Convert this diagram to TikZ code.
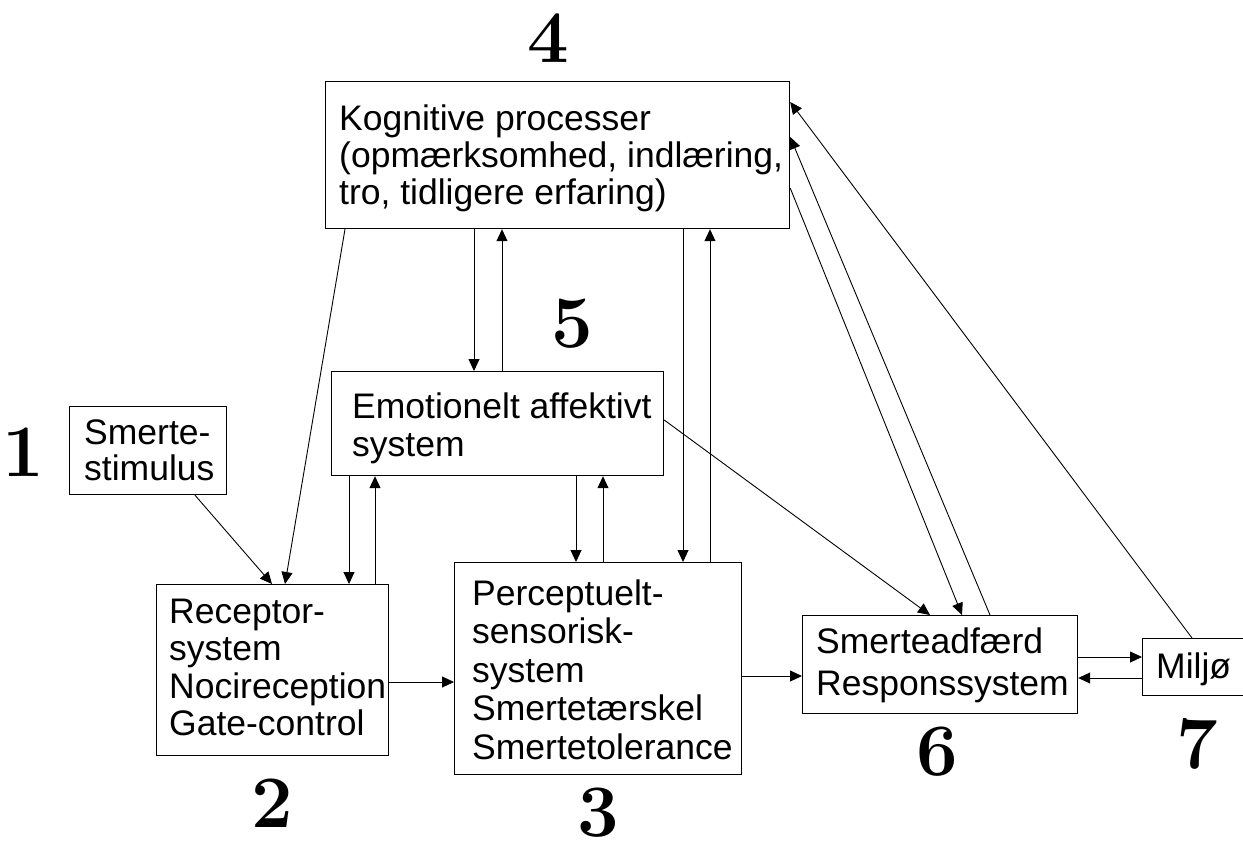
\documentclass[tikz,border=0pt]{standalone}
\usepackage{fontspec}
\setmainfont{Liberation Sans}
\newfontfamily\digitfont{Latin Modern Roman}
\usetikzlibrary{arrows.meta,calc}
\newcommand{\boxlines}[2]{\fontsize{35.5}{#1}\selectfont\begin{tabular}[t]{@{}l@{}}#2\end{tabular}}
\tikzset{
  boxnode/.style={draw=black, line width=1.2pt, inner sep=0pt, anchor=north west},
  txt/.style={anchor=base west, inner sep=0pt},
  arr/.style={line width=0.9pt, -{Triangle[length=12pt,width=11pt]}},
  num/.style={inner sep=0pt, font=\digitfont\bfseries\fontsize{74}{74}\selectfont}
}
\begin{document}
\begin{tikzpicture}[x=1pt,y=-1pt]
\useasboundingbox (0,0) rectangle (1243,841);
\clip (0,0) rectangle (1243,841);
\fill[white] (0,0) rectangle (1243,841);
% boxes
\node[boxnode, minimum width=464pt, minimum height=147pt] (b4) at (325,81) {};
\node[boxnode, minimum width=157pt, minimum height=88pt]  (b1) at (69,406) {};
\node[boxnode, minimum width=332pt, minimum height=104pt] (b5) at (331,371) {};
\node[boxnode, minimum width=232pt, minimum height=171pt] (b2) at (156,584) {};
\node[boxnode, minimum width=287pt, minimum height=212pt] (b3) at (454,562) {};
\node[boxnode, minimum width=275pt, minimum height=98pt]  (b6) at (802,615) {};
\node[boxnode, minimum width=110pt, minimum height=57pt]  (b7) at (1142,638) {};
% texts
\node[txt] (t4) at (339,130) {\boxlines{37}{Kognitive processer\\(opmærksomhed, indlæring,\\tro, tidligere erfaring)}};
\node[txt] (t1) at (84,444) {\boxlines{36}{Smerte-\\stimulus}};
\node[txt] (t5) at (352,418) {\boxlines{38}{Emotionelt affektivt\\system}};
\node[txt] (t2) at (169,623) {\boxlines{37.5}{Receptor-\\system\\Nocireception\\Gate-control}};
\node[txt] (t3) at (472,605) {\boxlines{38.5}{Perceptuelt-\\sensorisk-\\system\\Smertetærskel\\Smertetolerance}};
\node[txt] (t6) at (816,653) {\boxlines{42}{Smerteadfærd\\Responssystem}};
\node[txt] (t7) at (1156,678) {\boxlines{36}{Miljø}};
% numbers
\node[num] (n1) at (23,452) {1};
\node[num] (n2) at (272,803) {2};
\node[num] (n3) at (598,813) {3};
\node[num] (n4) at (548,38) {4};
\node[num] (n5) at (572,324) {5};
\node[num] (n6) at (937,752) {6};
\node[num] (n7) at (1197,744) {7};
% connectors
\draw[arr] ($(b1.south west)+(126,0)$) -- ($(b2.north west)+(116,0)$);
\draw[arr] ($(b4.south west)+(20,0)$) -- ($(b2.north west)+(129,0)$);
\draw[arr] ($(b5.south west)+(18,0)$) -- ($(b2.north west)+(193,0)$);
\draw[arr] ($(b2.north west)+(219,0)$) -- ($(b5.south west)+(44,0)$);
\draw[arr] ($(b4.south west)+(149,0)$) -- ($(b5.north west)+(143,0)$);
\draw[arr] ($(b5.north west)+(171,0)$) -- ($(b4.south west)+(177,0)$);
\draw[arr] ($(b5.south west)+(245,0)$) -- ($(b3.north west)+(122,0)$);
\draw[arr] ($(b3.north west)+(149,0)$) -- ($(b5.south west)+(272,0)$);
\draw[arr] ($(b4.south west)+(358,0)$) -- ($(b3.north west)+(229,0)$);
\draw[arr] ($(b3.north west)+(256,0)$) -- ($(b4.south west)+(385,0)$);
\draw[arr] ($(b5.north east)+(0,49)$) -- ($(b6.north west)+(128,0)$);
\draw[arr] ($(b4.north east)+(0,107)$) -- ($(b6.north west)+(160,0)$);
\draw[arr] ($(b6.north west)+(188,0)$) -- ($(b4.north east)+(0,56)$);
\draw[arr] ($(b7.north west)+(50,0)$) -- ($(b4.north east)+(0,21)$);
\draw[arr] ($(b2.north east)+(0,98)$) -- ($(b3.north west)+(0,120)$);
\draw[arr] ($(b3.north east)+(0,114)$) -- ($(b6.north west)+(0,61)$);
\draw[arr] ($(b6.north east)+(0,42)$) -- ($(b7.north west)+(0,19)$);
\draw[arr] ($(b7.north west)+(0,40)$) -- ($(b6.north east)+(0,63)$);
\end{tikzpicture}
\end{document}
